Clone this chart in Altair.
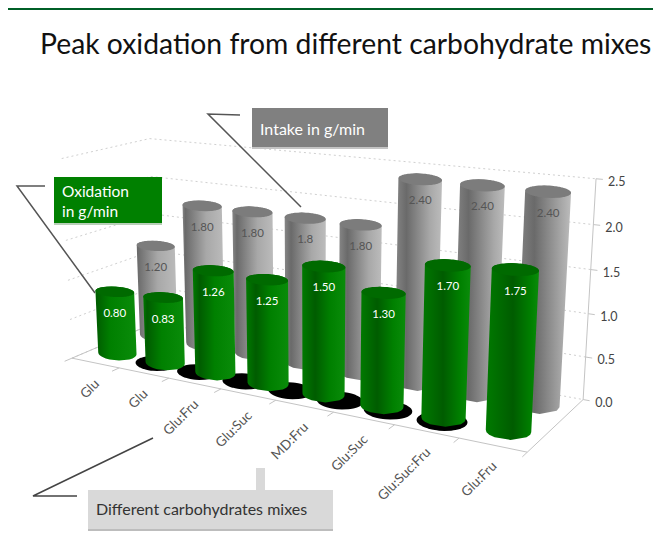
import numpy as np
import pandas as pd
import altair as alt

TITLE = "Peak oxidation from different carbohydrate mixes"
categories = ["Glu", "Glu", "Glu:Fru", "Glu:Suc", "MD:Fru", "Glu:Suc", "Glu:Suc:Fru", "Glu:Fru"]
oxidation = [0.80, 0.83, 1.26, 1.25, 1.50, 1.30, 1.70, 1.75]
oxidation_labels = ["0.80", "0.83", "1.26", "1.25", "1.50", "1.30", "1.70", "1.75"]
intake = [1.20, 1.80, 1.80, 1.80, 1.80, 2.40, 2.40, 2.40]
intake_labels = ["1.20", "1.80", "1.80", "1.8", "1.80", "2.40", "2.40", "2.40"]
value_ticks = [0.0, 0.5, 1.0, 1.5, 2.0, 2.5]
tick_labels = ["0.0", "0.5", "1.0", "1.5", "2.0", "2.5"]
black_row = [1.38, 2.23, 3.12, 3.98, 4.85, 5.66, 6.53]

# Camera of the 3D chart: (category position, depth, value) -> page pixel, calibrated on the axes' corners.
calib_world = [(0, 0, 0), (8, 0, 0), (8, 1, 0), (0, 1, 0), (8, 1, 2.5), (0, 1, 2.5), (0, 0, 2.5),
               (7.5, .25, 1.75), (.5, .25, .8), (7.5, .75, 2.4), (.5, .75, 1.2)]
calib_page = [(72, 361), (528, 450), (583, 402), (156, 318), (597, 180), (150, 139), (62, 157),
              (514.5, 268), (115, 293), (547.5, 191), (154.5, 248)]
A, b = [], []
for (X, Z, V), (u, w) in zip(calib_world, calib_page):
    A.append([X, Z, V, 1, 0, 0, 0, 0, -u * X, -u * Z, -u * V]); b.append(u)
    A.append([0, 0, 0, 0, X, Z, V, 1, -w * X, -w * Z, -w * V]); b.append(w)
p = np.linalg.lstsq(np.array(A, float), np.array(b, float), rcond=None)[0]


def project(X, Z, V):
    X, Z, V = np.asarray(X, float), np.asarray(Z, float), np.asarray(V, float)
    d = p[8] * X + p[9] * Z + p[10] * V + 1
    return (p[0] * X + p[1] * Z + p[2] * V + p[3]) / d, (p[4] * X + p[5] * Z + p[6] * V + p[7]) / d


T = np.linspace(0, 2 * np.pi, 73)
SQUASH_TOP = 0.27
SQUASH_BASE = 0.38
TILT = 0.05


def ring(X, Z, V, rx, squash):
    cx, cy = project(X, Z, V)
    a = (project(X + rx, Z, V)[0] - project(X - rx, Z, V)[0]) / 2
    return cx + a * np.cos(T), cy + a * squash * np.sin(T) + a * TILT * np.cos(T)


def scan(segs, key):
    segs = np.array(segs)
    ys = np.linspace(min(segs[:, 1].min(), segs[:, 3].min()), max(segs[:, 1].max(), segs[:, 3].max()), 70)
    rows = []
    for y in ys:
        lo, hi = np.minimum(segs[:, 1], segs[:, 3]), np.maximum(segs[:, 1], segs[:, 3])
        m = (lo <= y + 1e-9) & (hi >= y - 1e-9) & (hi > lo)
        if not m.any():
            continue
        s = segs[m]
        xs = s[:, 0] + (y - s[:, 1]) / (s[:, 3] - s[:, 1]) * (s[:, 2] - s[:, 0])
        rows.append({"y": y, "xa": xs.min(), "xb": xs.max(), "id": key})
    return rows


def ring_segs(r):
    return [(r[0][k], r[1][k], r[0][k + 1], r[1][k + 1]) for k in range(len(T) - 1)]


SX = alt.Scale(domain=[8, 653], nice=False, zero=False)
SY = alt.Scale(domain=[531, 8], nice=False, zero=False)
EX = alt.X("x:Q", scale=SX, axis=None)
EY = alt.Y("y:Q", scale=SY, axis=None)
layers = []


def polylines(rows, color, width=1.0, dash=None):
    kw = {"strokeDash": dash} if dash else {}
    layers.append(alt.Chart(pd.DataFrame(rows)).mark_line(color=color, strokeWidth=width, **kw).encode(
        x=EX, y=EY, detail="id:N", order="k:Q"))


def seg(a, b, key):
    return [{"x": float(a[0]), "y": float(a[1]), "id": key, "k": 0}, {"x": float(b[0]), "y": float(b[1]), "id": key, "k": 1}]


def rect(x0, x1, y0, y1, color):
    layers.append(alt.Chart(pd.DataFrame({"x": [x0], "x2": [x1], "y": [y0], "y2": [y1]})).mark_rect(color=color).encode(
        x=EX, x2="x2:Q", y=EY, y2="y2:Q"))


def text(rows, **kw):
    layers.append(alt.Chart(pd.DataFrame(rows)).mark_text(font="Lato", **kw).encode(x=EX, y=EY, text="t:N"))


def body_gradient(stops):
    return alt.LinearGradient(gradient="linear", x1=0, x2=1, y1=0, y2=0,
                              stops=[alt.GradientStop(color=c, offset=o) for o, c in stops])


def area(rows, **kw):
    layers.append(alt.Chart(pd.DataFrame(rows)).mark_area(orient="horizontal", **kw).encode(
        x=alt.X("xa:Q", scale=SX, axis=None), x2="xb:Q", y=EY, detail="id:N"))


# page frame
rect(8, 653, 8, 10, "#005f27")

# walls and floor
grid = []
for v in value_ticks:
    grid += seg(project(0, 0, v), project(0, 1, v), f"l{v}") + seg(project(0, 1, v), project(8, 1, v), f"b{v}")
polylines(grid, "#d0d0d0", 1, [2, 3])
axes = seg(project(0, 0, 0), project(8, 0, 0), "f") + seg(project(8, 0, 0), project(8, 1, 0), "r") \
    + seg(project(0, 0, 0), project(0, 1, 0), "l") + seg(project(8, 1, 0), project(8, 1, 2.5), "v")
for i in range(9):
    axes += seg(project(i, 0, 0), project(i, -0.08, 0), f"t{i}")
for v in value_ticks:
    axes += seg(project(8, 1, v), project(8.1, 1, v), f"y{v}")
polylines(axes, "#c4c4c4", 1)


def rx_of(i):
    return 0.41 - 0.01 * i


def cylinders(values, Z, stops_of, cap):
    caps = []
    for i, v in enumerate(values):
        X = i + 0.5
        top, bot = ring(X, Z, v, rx_of(i), SQUASH_TOP), ring(X, Z, 0, rx_of(i), SQUASH_BASE)
        segs = ring_segs(top) + ring_segs(bot) + [(top[0][k], top[1][k], bot[0][k], bot[1][k]) for k in range(len(T))]
        area(scan(segs, f"c{i}"), fill=body_gradient(stops_of(i)))
        caps += scan(ring_segs(top), f"c{i}")
    area(caps, color=cap)


def gray_stops(i):
    d = 0.02 + 0.045 * i
    return [(0, "#868686"), (d, "#6a6a6a"), (min(d + 0.5, 0.9), "#a8a8a8"), (1, "#bcbcbc")]


def green_stops(i):
    d = 0.02 + 0.07 * i
    return [(0, "#007a00"), (d, "#005c00"), (min(d + 0.35, 0.85), "#008000"), (1, "#0a8c0a")]


cylinders(intake, 0.75, gray_stops, "#7c7c7c")
black = []
for i, X in enumerate(black_row):
    black += scan(ring_segs(ring(X, 0.2, 0, 0.40, SQUASH_BASE)), f"s{i}")
area(black, color="#000000")
cylinders(oxidation, 0.25, green_stops, "#006a00")

# value labels
def value_rows(values, labels, Z):
    rows = []
    for i, (v, t) in enumerate(zip(values, labels)):
        x, y = project(i + 0.5, Z, v)
        rows.append({"x": float(x), "y": float(y) + 22, "t": t})
    return rows


text(value_rows(intake, intake_labels, 0.75), color="#555555", fontSize=11.5)
text(value_rows(oxidation, oxidation_labels, 0.25), color="#ffffff", fontSize=11.5)

# axis labels
rows = []
for i, c in enumerate(categories):
    x, y = project(i + 0.5, 0, 0)
    rows.append({"x": float(x) + 2, "y": float(y) + 19, "t": c})
text(rows, align="right", baseline="middle", angle=315, color="#555555", fontSize=13.5)
rows = []
for v, t in zip(value_ticks, tick_labels):
    x, y = project(8, 1, v)
    rows.append({"x": float(x) + 12, "y": float(y) + 3, "t": t})
text(rows, align="left", baseline="middle", color="#444444", fontSize=12.5)

# callouts
polylines([{"x": a, "y": c, "id": "i", "k": k} for k, (a, c) in enumerate([(240, 115), (208, 114), (301, 207)])], "#555555", 1.5)
polylines([{"x": a, "y": c, "id": "o", "k": k} for k, (a, c) in enumerate([(45, 186), (17, 186), (95, 293)])], "#555555", 1.5)
polylines([{"x": a, "y": c, "id": "d", "k": k} for k, (a, c) in enumerate([(77, 496), (33, 496), (153, 438)])], "#444444", 1.5)
rect(252, 388, 147, 149, "#c4c4c4")
rect(252, 388, 108, 147, "#808080")
rect(54, 162, 223, 225, "#b8cfb8")
rect(54, 162, 177, 223, "#008000")
rect(256, 265, 468, 490, "#d9d9d9")
rect(88, 333, 529, 531, "#bdbdbd")
rect(88, 333, 490, 529, "#d9d9d9")
text([{"x": 260, "y": 130, "t": "Intake in g/min"}], align="left", baseline="middle", color="#ffffff", fontSize=16)
text([{"x": 62, "y": 192, "t": "Oxidation"}, {"x": 62, "y": 212, "t": "in g/min"}], align="left", baseline="middle", color="#ffffff", fontSize=15.5)
text([{"x": 96, "y": 510, "t": "Different carbohydrates mixes"}], align="left", baseline="middle", color="#333333", fontSize=16)

# title
text([{"x": 40, "y": 46, "t": TITLE}], align="left", baseline="middle", color="#111111", fontSize=28.3)

chart = alt.layer(*layers).properties(
    width=645, height=523, padding=0, autosize=alt.AutoSizeParams(type="none"), background="#ffffff"
).configure_view(stroke=None)
chart.save("out.html", embed_options={"renderer": "svg", "actions": False})
